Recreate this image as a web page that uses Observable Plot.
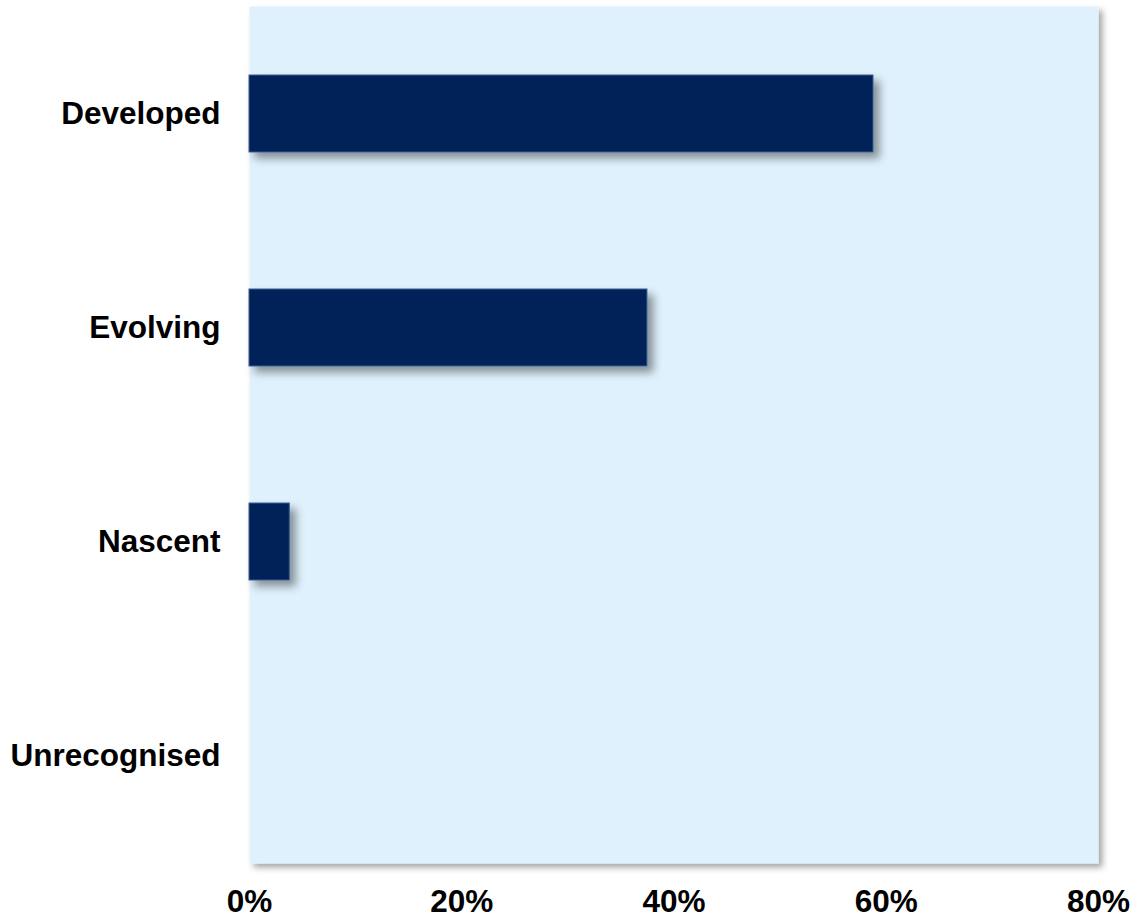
<!DOCTYPE html>
<html>
<head>
<meta charset="utf-8">
<script src="https://cdn.jsdelivr.net/npm/d3@7"></script>
<script src="https://cdn.jsdelivr.net/npm/@observablehq/plot@0.6"></script>
<style>
  html, body { margin: 0; padding: 0; background: #ffffff; }
  #chart { width: 1135px; height: 918px; }
</style>
</head>
<body>
<div id="chart"></div>
<script>
const categories = ["Developed", "Evolving", "Nascent", "Unrecognised"];
const values = [58.8, 37.5, 3.8, 0];
const xTicks = [0, 20, 40, 60, 80];

const data = categories.map((c, i) => ({category: c, value: values[i]}));

const chart = Plot.plot({
  width: 1135,
  height: 918,
  marginLeft: 249,
  marginRight: 37,
  marginTop: 6,
  marginBottom: 55,
  style: {fontFamily: "Arial, 'Liberation Sans', sans-serif", fontSize: "31.5px", fontWeight: "bold", color: "#000", background: "transparent"},
  x: {domain: [0, 80], ticks: xTicks},
  y: {domain: categories, paddingInner: 0.64, paddingOuter: 0.32, align: 0.5},
  marks: [
    Plot.frame({fill: "#dff1fd", stroke: null, className: "panel"}),
    Plot.barX(data, {x: "value", y: "category", fill: "#022459", stroke: "#3d5f8f", strokeWidth: 1, className: "bars"}),
    Plot.axisX({ticks: xTicks, tickFormat: d => d + "%", tickSize: 0, tickPadding: 26, label: null, fontWeight: "bold", fill: "#000"}),
    Plot.axisY({tickSize: 0, tickPadding: 29, label: null, fontWeight: "bold", fill: "#000"})
  ]
});

document.getElementById("chart").appendChild(chart);

// drop shadows
const svg = d3.select(chart);
const defs = svg.insert("defs", ":first-child");
const mk = (id, dx, dy, sd, op) => {
  const f = defs.append("filter").attr("id", id).attr("x", "-10%").attr("y", "-10%").attr("width", "130%").attr("height", "140%");
  f.append("feDropShadow").attr("dx", dx).attr("dy", dy).attr("stdDeviation", sd).attr("flood-color", "#000").attr("flood-opacity", op);
};
mk("panelShadow", 4, 4, 3, 0.35);
mk("barShadow", 6, 6, 4, 0.4);
svg.selectAll(".panel").attr("filter", "url(#panelShadow)");
svg.selectAll(".bars").attr("filter", "url(#barShadow)");
</script>
</body>
</html>
